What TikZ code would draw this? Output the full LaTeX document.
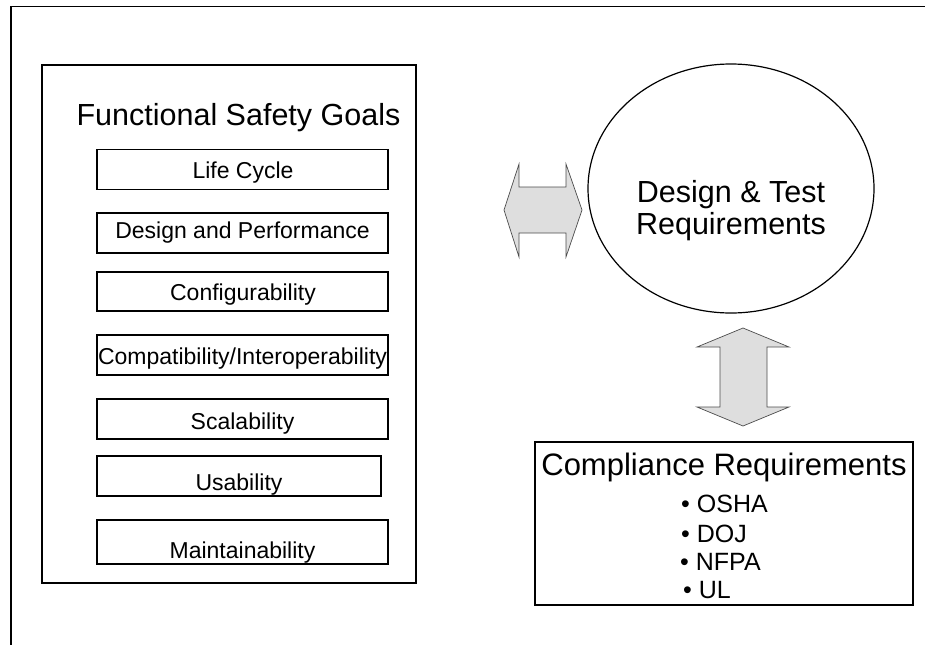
\documentclass[tikz,border=0pt]{standalone}
\usepackage{fontspec}
\setmainfont{Liberation Sans}
\usetikzlibrary{shapes.geometric}
\begin{document}
\begin{tikzpicture}[x=1pt,y=-1pt,
  frameline/.style={line width=1.6pt},
  goalsbox/.style={draw, line width=1.4pt, inner sep=0pt, rectangle},
  itembox/.style={draw, line width=1.1pt, inner sep=0pt, rectangle, minimum width=291pt, minimum height=40pt},
  itemtext/.style={anchor=base, inner sep=0pt, font=\fontsize{23}{27}\selectfont},
  bigtext/.style={anchor=base, inner sep=0pt, font=\fontsize{30.5}{36}\selectfont},
  bullettext/.style={anchor=base west, inner sep=0pt, font=\fontsize{25}{30}\selectfont},
  blockarrow/.style={fill=black!13, draw=black!70, line width=0.7pt, line join=miter}]

\useasboundingbox (0,0) rectangle (925,645);

% page frame (only top and left edges fall inside the page)
\draw[frameline] (925,6.5) -- (11,6.5) -- (11,645);

% functional safety goals panel
\node[goalsbox, minimum width=374pt, minimum height=518pt] (goals) at (229,324) {};
\node[bigtext] (goalstitle) at (238.5,125) {Functional Safety Goals};

\node[itembox] (lifecycle) at (242.5,169.5) {};
\node[itemtext] (lifecyclet) at (243,178) {Life Cycle};

\node[itembox] (design) at (242.5,233) {};
\node[itemtext] (designt) at (242.5,238) {Design and Performance};

\node[itembox, minimum height=39pt] (config) at (242.5,291.5) {};
\node[itemtext] (configt) at (243,300) {Configurability};

\node[itembox] (compat) at (242.5,355) {};
\node[itemtext] (compatt) at (242.5,364) {Compatibility/Interoperability};

\node[itembox] (scal) at (242.5,419) {};
\node[itemtext] (scalt) at (242.5,429) {Scalability};

\node[itembox, minimum width=284pt] (usab) at (239,476) {};
\node[itemtext] (usabt) at (239,490) {Usability};

\node[itembox, minimum height=44pt] (maint) at (242.5,542) {};
\node[itemtext] (maintt) at (242.5,558) {Maintainability};

% design & test requirements
\node[draw, ellipse, line width=1.2pt, inner sep=0pt, minimum width=286pt, minimum height=249pt] (dtr) at (731,188.5) {};
\node[bigtext] (dtr1) at (731,202) {Design \& Test};
\node[bigtext] (dtr2) at (731,234) {Requirements};

% compliance requirements
\node[goalsbox, line width=1.3pt, minimum width=378pt, minimum height=163pt] (comp) at (724,523.5) {};
\node[bigtext, font=\fontsize{31}{36}\selectfont] (compt) at (724,475) {Compliance Requirements};
\node[bullettext] (osha) at (681,512) {\textbullet\ OSHA};
\node[bullettext] (doj)  at (681,542) {\textbullet\ DOJ};
\node[bullettext] (nfpa) at (680,570) {\textbullet\ NFPA};
\node[bullettext] (ul)   at (683,598) {\textbullet\ UL};

% block arrows
\draw[blockarrow] (504,210) -- (519,164) -- (519,187) -- (566,187) -- (566,164)
  -- (582,210) -- (566,257) -- (566,233) -- (519,233) -- (519,257) -- cycle;
\draw[blockarrow] (743,328) -- (789,347) -- (767,347) -- (767,407) -- (789,407)
  -- (743,426) -- (697,407) -- (720,407) -- (720,347) -- (697,347) -- cycle;
\end{tikzpicture}
\end{document}
